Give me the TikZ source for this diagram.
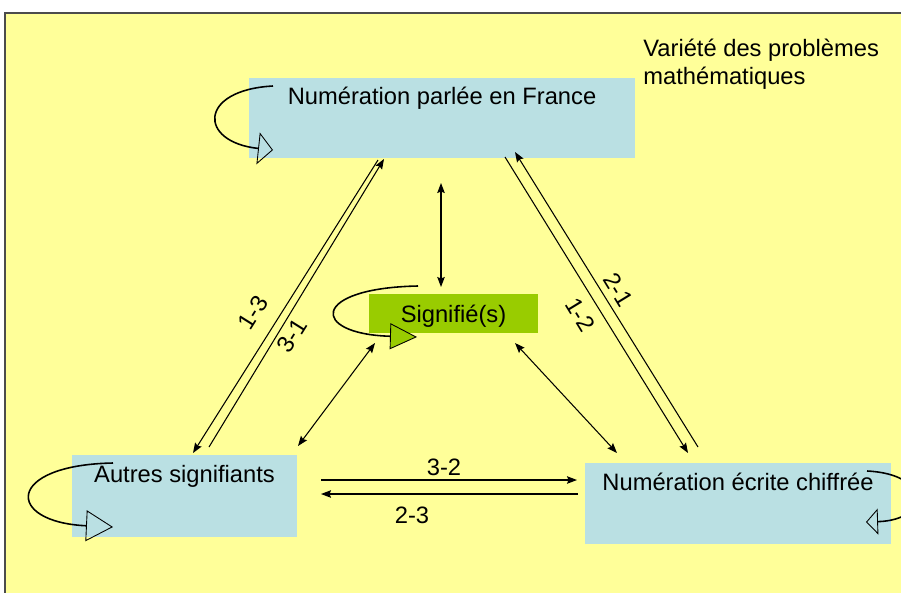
\documentclass[tikz,border=0pt]{standalone}
\usepackage{fontspec}
\setmainfont{Liberation Sans}
\usetikzlibrary{arrows.meta,calc,positioning}

\definecolor{paleyellow}{HTML}{FFFF99}
\definecolor{paleblue}{HTML}{BAE0E3}
\definecolor{leafgreen}{HTML}{99CC00}

\tikzset{
  pane/.style={rectangle, fill=paleblue, inner sep=0pt},
  sigpane/.style={pane, fill=leafgreen},
  txt/.style={font=\fontsize{13.5}{15.5}\selectfont, inner sep=0pt, anchor=base},
  tag/.style={txt, anchor=center},
  flow/.style={line width=0.6pt, -{Stealth[length=0.2cm, width=0.15cm, inset=0.03cm]}},
  both/.style={line width=0.6pt, {Stealth[length=0.2cm, width=0.15cm, inset=0.03cm]}-{Stealth[length=0.2cm, width=0.15cm, inset=0.03cm]}},
  selfloop/.style={line width=0.9pt},
}

\begin{document}
\begin{tikzpicture}[x=0.02cm, y=-0.02cm]
   \useasboundingbox (0,0) rectangle (901,592);
   \fill[white] (0,0) rectangle (901,592);
   \draw[fill=paleyellow, draw=gray!60!black, line width=0.6pt] (5,13) rectangle (910,600);

   % les quatre cadres
   \node[pane, minimum width=7.72cm, minimum height=1.6cm] (npf) at (442,118) {};
   \node[sigpane, minimum width=3.38cm, minimum height=0.78cm] (sig) at (453.5,313.5) {};
   \node[pane, minimum width=4.5cm, minimum height=1.64cm] (aut) at (184.5,496) {};
   \node[pane, minimum width=6.12cm, minimum height=1.62cm] (nec) at (738,503.5) {};

   \node[txt] (npft) at ($(npf.north)+(0,27)$) {Numération parlée en France};
   \node[txt] (sigt) at ($(sig.north)+(0,29)$) {Signifié(s)};
   \node[txt] (autt) at ($(aut.north)+(0,28)$) {Autres signifiants};
   \node[txt] (nect) at ($(nec.north)+(0,28)$) {Numération écrite chiffrée};
   \node[txt, anchor=north west, align=left] (var) at (643,39) {Variété des problèmes\\mathématiques};

   % boucles
   \draw[selfloop, -{Triangle[open, length=0.3cm, width=0.64cm, line width=0.5pt]}]
      (273,86) .. controls (198,90) and (198,142) .. (273,150);
   \draw[selfloop, -{Triangle[fill=leafgreen, length=0.54cm, width=0.52cm, line width=0.5pt]}]
      (418,286) .. controls (310,288) and (310,334) .. (417,337);
   \draw[selfloop, -{Triangle[open, length=0.54cm, width=0.62cm, line width=0.5pt]}]
      (113,463) .. controls (5,465) and (5,522) .. (113,527);
   \draw[selfloop, -{Triangle[open, length=0.24cm, width=0.52cm, line width=0.5pt]}]
      (867,471) .. controls (931,474) and (931,520) .. (866,522);

   % extremites des fleches
   \coordinate (v1) at (441,183);
   \coordinate (v2) at (441,287);
   \coordinate (a13s) at (378,160);
   \coordinate (a13e) at (193,453);
   \coordinate (a31s) at (209,447);
   \coordinate (a31e) at (384,159);
   \coordinate (a12s) at (505,157);
   \coordinate (a12e) at (688,453);
   \coordinate (a21s) at (698,447);
   \coordinate (a21e) at (515,152);
   \coordinate (sa1) at (375,343);
   \coordinate (sa2) at (298,446);
   \coordinate (sn1) at (515,343);
   \coordinate (sn2) at (617,453);
   \coordinate (a32s) at (321,480);
   \coordinate (a32e) at (577,480);
   \coordinate (a23s) at (578,494);
   \coordinate (a23e) at (321,494);

   \draw[both] (v1) -- (v2);
   \draw[both] (sa1) -- (sa2);
   \draw[both] (sn1) -- (sn2);
   \draw[flow] (a13s) -- (a13e);
   \draw[flow] (a31s) -- (a31e);
   \draw[flow] (a12s) -- (a12e);
   \draw[flow] (a21s) -- (a21e);
   \draw[flow] (a32s) -- (a32e);
   \draw[flow] (a23s) -- (a23e);

   % etiquettes
   \node[tag, rotate=58] (l13) at (253,313) {1-3};
   \node[tag, rotate=58] (l31) at (292,336) {3-1};
   \node[tag, rotate=-58.6] (l21) at (618,290) {2-1};
   \node[tag, rotate=-58.6] (l12) at (580,315) {1-2};
   \node[tag] (l32) at (444,467) {3-2};
   \node[tag] (l23) at (412,515) {2-3};
\end{tikzpicture}
\end{document}
